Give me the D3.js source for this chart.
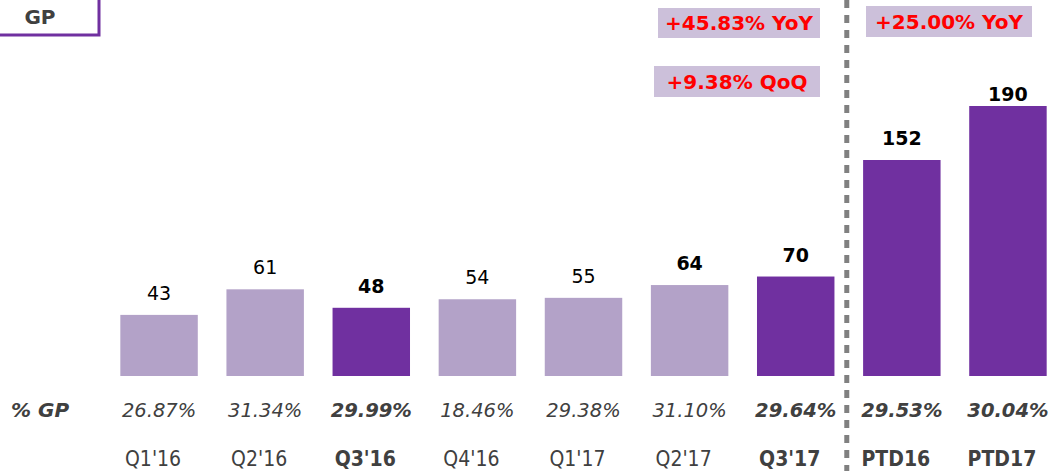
<!DOCTYPE html>
<html>
<head>
<meta charset="utf-8">
<script src="https://cdn.jsdelivr.net/npm/d3@7"></script>
<style>
  body { margin: 0; background: #fff; }
  svg { display: block; font-family: "DejaVu Sans", Verdana, sans-serif; }
</style>
</head>
<body>
<div id="chart"></div>
<script>
const categories = ["Q1'16", "Q2'16", "Q3'16", "Q4'16", "Q1'17", "Q2'17", "Q3'17", "PTD16", "PTD17"];
const gpValues = [43, 61, 48, 54, 55, 64, 70, 152, 190];
const gpPct = ["26.87%", "31.34%", "29.99%", "18.46%", "29.38%", "31.10%", "29.64%", "29.53%", "30.04%"];
const highlighted = ["Q3'16", "Q3'17", "PTD16", "PTD17"];
const boldValues = ["Q3'16", "Q2'17", "Q3'17", "PTD16", "PTD17"];
const notes = [
  { text: "+45.83% YoY", x0: 658, x1: 820, y0: 8, y1: 38 },
  { text: "+9.38% QoQ", x0: 654, x1: 820, y0: 66, y1: 97 },
  { text: "+25.00% YoY", x0: 866, x1: 1032, y0: 6, y1: 37 }
];

const width = 1052, height = 471;
const baseY = 376;

const svg = d3.select("#chart").append("svg")
  .attr("width", width)
  .attr("height", height);

const x = d3.scaleBand()
  .domain(categories)
  .range([106, 1061])
  .paddingInner(0.27)
  .paddingOuter(0.135);

const y = d3.scaleLinear()
  .domain([0, 190])
  .range([baseY, 106]);

// bars
svg.append("g")
  .selectAll("rect")
  .data(categories)
  .join("rect")
  .attr("x", d => x(d))
  .attr("y", (d, i) => y(gpValues[i]))
  .attr("width", x.bandwidth())
  .attr("height", (d, i) => baseY - y(gpValues[i]))
  .attr("fill", d => highlighted.includes(d) ? "#7030A0" : "#B3A2C8");

// value labels (tallest one is squeezed under the top notes)
svg.append("g")
  .selectAll("text")
  .data(categories)
  .join("text")
  .attr("x", d => x(d) + x.bandwidth() / 2)
  .attr("y", (d, i) => Math.max(y(gpValues[i]) - 15, 101))
  .attr("text-anchor", "middle")
  .attr("font-size", 19)
  .attr("font-weight", d => boldValues.includes(d) ? "bold" : "normal")
  .attr("fill", "#000")
  .text((d, i) => gpValues[i]);

// % GP row
svg.append("text")
  .attr("x", 11)
  .attr("y", 417)
  .attr("font-size", 20)
  .attr("font-weight", "bold")
  .attr("font-style", "italic")
  .attr("fill", "#404040")
  .text("% GP");

svg.append("g")
  .selectAll("text")
  .data(categories)
  .join("text")
  .attr("x", d => x(d) + x.bandwidth() / 2)
  .attr("y", 417)
  .attr("text-anchor", "middle")
  .attr("font-size", 19.5)
  .attr("font-style", "italic")
  .attr("font-weight", d => highlighted.includes(d) ? "bold" : "normal")
  .attr("fill", "#404040")
  .text((d, i) => gpPct[i]);

// category labels
svg.append("g")
  .selectAll("text")
  .data(categories)
  .join("text")
  .attr("x", d => x(d) + x.bandwidth() / 2 - 6)
  .attr("y", 466)
  .attr("text-anchor", "middle")
  .attr("font-family", "'DejaVu Sans Condensed', 'DejaVu Sans', sans-serif")
  .attr("font-size", 21)
  .attr("font-weight", d => highlighted.includes(d) ? "bold" : "normal")
  .attr("fill", "#404040")
  .text(d => d);

// divider between quarters and PTD
const divX = (x("Q3'17") + x.bandwidth() + x("PTD16")) / 2 - 2;
svg.append("line")
  .attr("x1", divX).attr("x2", divX)
  .attr("y1", 0).attr("y2", height)
  .attr("stroke", "#808080")
  .attr("stroke-width", 5)
  .attr("stroke-dasharray", "8,7");

// GP title box
svg.append("path")
  .attr("d", "M0,35 H99 V0")
  .attr("fill", "none")
  .attr("stroke", "#7030A0")
  .attr("stroke-width", 3);
svg.append("text")
  .attr("x", 40)
  .attr("y", 24)
  .attr("text-anchor", "middle")
  .attr("font-size", 20)
  .attr("font-weight", "bold")
  .attr("fill", "#404040")
  .text("GP");

// growth notes
const note = svg.append("g")
  .selectAll("g")
  .data(notes)
  .join("g");
note.append("rect")
  .attr("x", d => d.x0)
  .attr("y", d => d.y0)
  .attr("width", d => d.x1 - d.x0)
  .attr("height", d => d.y1 - d.y0)
  .attr("fill", "#CCC0DA");
note.append("text")
  .attr("x", d => (d.x0 + d.x1) / 2)
  .attr("y", d => (d.y0 + d.y1) / 2 + 7)
  .attr("text-anchor", "middle")
  .attr("font-size", 20)
  .attr("font-weight", "bold")
  .attr("fill", "#FF0000")
  .text(d => d.text);
</script>
</body>
</html>
